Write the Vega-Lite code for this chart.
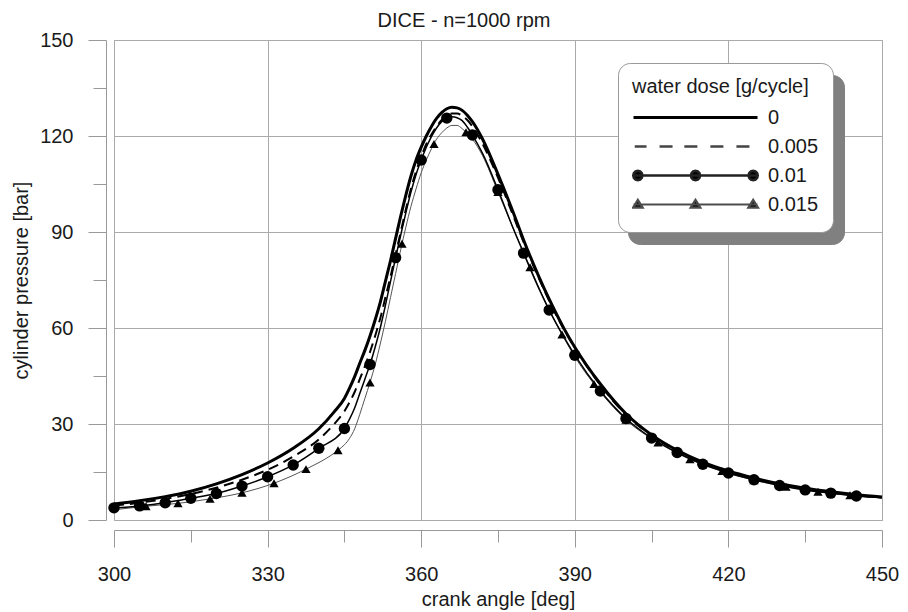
{
  "$schema": "https://vega.github.io/schema/vega-lite/v6.json",
  "width": 768,
  "height": 480,
  "autosize": "none",
  "padding": {"left": 114, "top": 40, "right": 26, "bottom": 92},
  "background": "white",
  "config": {
    "view": {"stroke": "#aaaaaa", "strokeWidth": 1},
    "font": "Liberation Sans"
  },
  "title": {
    "text": "DICE - n=1000 rpm",
    "font": "Liberation Sans",
    "fontSize": 20,
    "fontWeight": "normal",
    "color": "#1a1a1a",
    "anchor": "middle",
    "dx": -34,
    "dy": 29,
    "baseline": "bottom",
    "offset": 8
  },
  "datasets": {
    "curves": [
      {"dose": "0", "angle": 300, "pressure": 5.0},
      {"dose": "0", "angle": 305, "pressure": 6.0},
      {"dose": "0", "angle": 310, "pressure": 7.3},
      {"dose": "0", "angle": 315, "pressure": 9.0},
      {"dose": "0", "angle": 320, "pressure": 11.3},
      {"dose": "0", "angle": 325, "pressure": 14.2},
      {"dose": "0", "angle": 330, "pressure": 17.8},
      {"dose": "0", "angle": 335, "pressure": 22.4},
      {"dose": "0", "angle": 340, "pressure": 28.5},
      {"dose": "0", "angle": 343, "pressure": 33.8},
      {"dose": "0", "angle": 345, "pressure": 38.0},
      {"dose": "0", "angle": 346, "pressure": 41.2},
      {"dose": "0", "angle": 347, "pressure": 44.8},
      {"dose": "0", "angle": 348, "pressure": 49.0},
      {"dose": "0", "angle": 349, "pressure": 53.0},
      {"dose": "0", "angle": 350, "pressure": 57.5},
      {"dose": "0", "angle": 351, "pressure": 62.5},
      {"dose": "0", "angle": 352, "pressure": 68.0},
      {"dose": "0", "angle": 353, "pressure": 74.5},
      {"dose": "0", "angle": 354, "pressure": 81.0},
      {"dose": "0", "angle": 355, "pressure": 88.0},
      {"dose": "0", "angle": 356, "pressure": 95.0},
      {"dose": "0", "angle": 357, "pressure": 101.5},
      {"dose": "0", "angle": 358, "pressure": 107.5},
      {"dose": "0", "angle": 359, "pressure": 112.5},
      {"dose": "0", "angle": 360, "pressure": 116.5},
      {"dose": "0", "angle": 361, "pressure": 120.0},
      {"dose": "0", "angle": 362, "pressure": 123.0},
      {"dose": "0", "angle": 363, "pressure": 125.5},
      {"dose": "0", "angle": 364, "pressure": 127.3},
      {"dose": "0", "angle": 365, "pressure": 128.5},
      {"dose": "0", "angle": 366, "pressure": 129.0},
      {"dose": "0", "angle": 367, "pressure": 128.8},
      {"dose": "0", "angle": 368, "pressure": 128.0},
      {"dose": "0", "angle": 369, "pressure": 126.5},
      {"dose": "0", "angle": 370, "pressure": 124.5},
      {"dose": "0", "angle": 372, "pressure": 119.0},
      {"dose": "0", "angle": 375, "pressure": 108.0},
      {"dose": "0", "angle": 378, "pressure": 96.0},
      {"dose": "0", "angle": 380, "pressure": 87.5},
      {"dose": "0", "angle": 383, "pressure": 76.0},
      {"dose": "0", "angle": 385, "pressure": 69.0},
      {"dose": "0", "angle": 388, "pressure": 59.5},
      {"dose": "0", "angle": 390, "pressure": 54.0},
      {"dose": "0", "angle": 395, "pressure": 42.5},
      {"dose": "0", "angle": 400, "pressure": 33.2},
      {"dose": "0", "angle": 405, "pressure": 26.6},
      {"dose": "0", "angle": 410, "pressure": 21.8},
      {"dose": "0", "angle": 415, "pressure": 18.1},
      {"dose": "0", "angle": 420, "pressure": 15.3},
      {"dose": "0", "angle": 425, "pressure": 13.1},
      {"dose": "0", "angle": 430, "pressure": 11.3},
      {"dose": "0", "angle": 435, "pressure": 9.9},
      {"dose": "0", "angle": 440, "pressure": 8.8},
      {"dose": "0", "angle": 445, "pressure": 7.9},
      {"dose": "0", "angle": 450, "pressure": 7.2},

      {"dose": "0.005", "angle": 300, "pressure": 4.5},
      {"dose": "0.005", "angle": 305, "pressure": 5.4},
      {"dose": "0.005", "angle": 310, "pressure": 6.6},
      {"dose": "0.005", "angle": 315, "pressure": 8.1},
      {"dose": "0.005", "angle": 320, "pressure": 10.1},
      {"dose": "0.005", "angle": 325, "pressure": 12.6},
      {"dose": "0.005", "angle": 330, "pressure": 15.7},
      {"dose": "0.005", "angle": 335, "pressure": 19.8},
      {"dose": "0.005", "angle": 340, "pressure": 25.2},
      {"dose": "0.005", "angle": 343, "pressure": 30.0},
      {"dose": "0.005", "angle": 345, "pressure": 34.0},
      {"dose": "0.005", "angle": 346, "pressure": 36.8},
      {"dose": "0.005", "angle": 347, "pressure": 40.0},
      {"dose": "0.005", "angle": 348, "pressure": 44.0},
      {"dose": "0.005", "angle": 349, "pressure": 48.0},
      {"dose": "0.005", "angle": 350, "pressure": 52.5},
      {"dose": "0.005", "angle": 351, "pressure": 57.5},
      {"dose": "0.005", "angle": 352, "pressure": 63.0},
      {"dose": "0.005", "angle": 353, "pressure": 69.5},
      {"dose": "0.005", "angle": 354, "pressure": 76.0},
      {"dose": "0.005", "angle": 355, "pressure": 83.0},
      {"dose": "0.005", "angle": 356, "pressure": 90.0},
      {"dose": "0.005", "angle": 357, "pressure": 97.0},
      {"dose": "0.005", "angle": 358, "pressure": 103.5},
      {"dose": "0.005", "angle": 359, "pressure": 109.0},
      {"dose": "0.005", "angle": 360, "pressure": 113.5},
      {"dose": "0.005", "angle": 361, "pressure": 117.5},
      {"dose": "0.005", "angle": 362, "pressure": 120.5},
      {"dose": "0.005", "angle": 363, "pressure": 123.0},
      {"dose": "0.005", "angle": 364, "pressure": 125.0},
      {"dose": "0.005", "angle": 365, "pressure": 126.3},
      {"dose": "0.005", "angle": 366, "pressure": 127.0},
      {"dose": "0.005", "angle": 367, "pressure": 127.0},
      {"dose": "0.005", "angle": 368, "pressure": 126.3},
      {"dose": "0.005", "angle": 369, "pressure": 125.0},
      {"dose": "0.005", "angle": 370, "pressure": 123.0},
      {"dose": "0.005", "angle": 372, "pressure": 117.5},
      {"dose": "0.005", "angle": 375, "pressure": 107.0},
      {"dose": "0.005", "angle": 378, "pressure": 95.0},
      {"dose": "0.005", "angle": 380, "pressure": 86.8},
      {"dose": "0.005", "angle": 383, "pressure": 75.5},
      {"dose": "0.005", "angle": 385, "pressure": 68.5},
      {"dose": "0.005", "angle": 388, "pressure": 59.2},
      {"dose": "0.005", "angle": 390, "pressure": 53.8},
      {"dose": "0.005", "angle": 395, "pressure": 42.2},
      {"dose": "0.005", "angle": 400, "pressure": 32.9},
      {"dose": "0.005", "angle": 405, "pressure": 26.4},
      {"dose": "0.005", "angle": 410, "pressure": 21.6},
      {"dose": "0.005", "angle": 415, "pressure": 17.9},
      {"dose": "0.005", "angle": 420, "pressure": 15.1},
      {"dose": "0.005", "angle": 425, "pressure": 12.9},
      {"dose": "0.005", "angle": 430, "pressure": 11.1},
      {"dose": "0.005", "angle": 435, "pressure": 9.7},
      {"dose": "0.005", "angle": 440, "pressure": 8.6},
      {"dose": "0.005", "angle": 445, "pressure": 7.7},
      {"dose": "0.005", "angle": 450, "pressure": 7.0},

      {"dose": "0.01", "angle": 300, "pressure": 3.8},
      {"dose": "0.01", "angle": 305, "pressure": 4.4},
      {"dose": "0.01", "angle": 310, "pressure": 5.4},
      {"dose": "0.01", "angle": 315, "pressure": 6.8},
      {"dose": "0.01", "angle": 320, "pressure": 8.3},
      {"dose": "0.01", "angle": 325, "pressure": 10.6},
      {"dose": "0.01", "angle": 330, "pressure": 13.5},
      {"dose": "0.01", "angle": 335, "pressure": 17.2},
      {"dose": "0.01", "angle": 340, "pressure": 22.4},
      {"dose": "0.01", "angle": 345, "pressure": 28.6},
      {"dose": "0.01", "angle": 346, "pressure": 31.5},
      {"dose": "0.01", "angle": 347, "pressure": 35.0},
      {"dose": "0.01", "angle": 348, "pressure": 39.5},
      {"dose": "0.01", "angle": 349, "pressure": 44.0},
      {"dose": "0.01", "angle": 350, "pressure": 48.6},
      {"dose": "0.01", "angle": 351, "pressure": 54.0},
      {"dose": "0.01", "angle": 352, "pressure": 60.0},
      {"dose": "0.01", "angle": 353, "pressure": 67.0},
      {"dose": "0.01", "angle": 354, "pressure": 74.5},
      {"dose": "0.01", "angle": 355, "pressure": 82.0},
      {"dose": "0.01", "angle": 356, "pressure": 89.0},
      {"dose": "0.01", "angle": 357, "pressure": 96.0},
      {"dose": "0.01", "angle": 358, "pressure": 102.5},
      {"dose": "0.01", "angle": 359, "pressure": 108.0},
      {"dose": "0.01", "angle": 360, "pressure": 112.5},
      {"dose": "0.01", "angle": 361, "pressure": 116.5},
      {"dose": "0.01", "angle": 362, "pressure": 119.8},
      {"dose": "0.01", "angle": 363, "pressure": 122.5},
      {"dose": "0.01", "angle": 364, "pressure": 124.5},
      {"dose": "0.01", "angle": 365, "pressure": 125.6},
      {"dose": "0.01", "angle": 366, "pressure": 126.0},
      {"dose": "0.01", "angle": 367, "pressure": 125.7},
      {"dose": "0.01", "angle": 368, "pressure": 124.8},
      {"dose": "0.01", "angle": 369, "pressure": 122.8},
      {"dose": "0.01", "angle": 370, "pressure": 120.3},
      {"dose": "0.01", "angle": 372, "pressure": 114.5},
      {"dose": "0.01", "angle": 375, "pressure": 103.2},
      {"dose": "0.01", "angle": 378, "pressure": 91.0},
      {"dose": "0.01", "angle": 380, "pressure": 83.4},
      {"dose": "0.01", "angle": 383, "pressure": 72.3},
      {"dose": "0.01", "angle": 385, "pressure": 65.6},
      {"dose": "0.01", "angle": 388, "pressure": 56.8},
      {"dose": "0.01", "angle": 390, "pressure": 51.5},
      {"dose": "0.01", "angle": 395, "pressure": 40.3},
      {"dose": "0.01", "angle": 400, "pressure": 31.7},
      {"dose": "0.01", "angle": 405, "pressure": 25.6},
      {"dose": "0.01", "angle": 410, "pressure": 21.1},
      {"dose": "0.01", "angle": 415, "pressure": 17.4},
      {"dose": "0.01", "angle": 420, "pressure": 14.7},
      {"dose": "0.01", "angle": 425, "pressure": 12.6},
      {"dose": "0.01", "angle": 430, "pressure": 10.8},
      {"dose": "0.01", "angle": 435, "pressure": 9.4},
      {"dose": "0.01", "angle": 440, "pressure": 8.4},
      {"dose": "0.01", "angle": 445, "pressure": 7.5},
      {"dose": "0.01", "angle": 450, "pressure": 7.0},

      {"dose": "0.015", "angle": 300, "pressure": 3.2},
      {"dose": "0.015", "angle": 306.25, "pressure": 4.3},
      {"dose": "0.015", "angle": 312.5, "pressure": 5.2},
      {"dose": "0.015", "angle": 318.75, "pressure": 6.6},
      {"dose": "0.015", "angle": 325, "pressure": 8.5},
      {"dose": "0.015", "angle": 331.25, "pressure": 11.5},
      {"dose": "0.015", "angle": 337.5, "pressure": 15.9},
      {"dose": "0.015", "angle": 343.75, "pressure": 21.8},
      {"dose": "0.015", "angle": 345, "pressure": 23.5},
      {"dose": "0.015", "angle": 346, "pressure": 25.5},
      {"dose": "0.015", "angle": 347, "pressure": 28.5},
      {"dose": "0.015", "angle": 348, "pressure": 33.0},
      {"dose": "0.015", "angle": 349, "pressure": 38.0},
      {"dose": "0.015", "angle": 350, "pressure": 43.0},
      {"dose": "0.015", "angle": 351, "pressure": 48.5},
      {"dose": "0.015", "angle": 352, "pressure": 55.0},
      {"dose": "0.015", "angle": 353, "pressure": 62.0},
      {"dose": "0.015", "angle": 354, "pressure": 69.5},
      {"dose": "0.015", "angle": 355, "pressure": 77.0},
      {"dose": "0.015", "angle": 356, "pressure": 84.5},
      {"dose": "0.015", "angle": 357, "pressure": 91.5},
      {"dose": "0.015", "angle": 358, "pressure": 98.0},
      {"dose": "0.015", "angle": 359, "pressure": 103.5},
      {"dose": "0.015", "angle": 360, "pressure": 108.5},
      {"dose": "0.015", "angle": 361, "pressure": 112.5},
      {"dose": "0.015", "angle": 362, "pressure": 116.0},
      {"dose": "0.015", "angle": 363, "pressure": 119.0},
      {"dose": "0.015", "angle": 364, "pressure": 121.0},
      {"dose": "0.015", "angle": 365, "pressure": 122.5},
      {"dose": "0.015", "angle": 366, "pressure": 123.3},
      {"dose": "0.015", "angle": 367, "pressure": 123.3},
      {"dose": "0.015", "angle": 368, "pressure": 122.3},
      {"dose": "0.015", "angle": 368.75, "pressure": 121.2},
      {"dose": "0.015", "angle": 370, "pressure": 119.0},
      {"dose": "0.015", "angle": 372, "pressure": 113.8},
      {"dose": "0.015", "angle": 375, "pressure": 102.5},
      {"dose": "0.015", "angle": 378, "pressure": 91.0},
      {"dose": "0.015", "angle": 381.25, "pressure": 79.0},
      {"dose": "0.015", "angle": 384, "pressure": 69.0},
      {"dose": "0.015", "angle": 387.5, "pressure": 58.0},
      {"dose": "0.015", "angle": 390, "pressure": 51.0},
      {"dose": "0.015", "angle": 393.75, "pressure": 42.5},
      {"dose": "0.015", "angle": 400, "pressure": 31.3},
      {"dose": "0.015", "angle": 406.25, "pressure": 24.2},
      {"dose": "0.015", "angle": 412.5, "pressure": 19.0},
      {"dose": "0.015", "angle": 418.75, "pressure": 15.3},
      {"dose": "0.015", "angle": 425, "pressure": 12.4},
      {"dose": "0.015", "angle": 431.25, "pressure": 10.4},
      {"dose": "0.015", "angle": 437.5, "pressure": 8.8},
      {"dose": "0.015", "angle": 443.75, "pressure": 7.7},
      {"dose": "0.015", "angle": 450, "pressure": 6.9}
    ],
    "markers": [
      {"dose": "0.01", "angle": 300, "pressure": 3.8},
      {"dose": "0.01", "angle": 305, "pressure": 4.4},
      {"dose": "0.01", "angle": 310, "pressure": 5.4},
      {"dose": "0.01", "angle": 315, "pressure": 6.8},
      {"dose": "0.01", "angle": 320, "pressure": 8.3},
      {"dose": "0.01", "angle": 325, "pressure": 10.6},
      {"dose": "0.01", "angle": 330, "pressure": 13.5},
      {"dose": "0.01", "angle": 335, "pressure": 17.2},
      {"dose": "0.01", "angle": 340, "pressure": 22.4},
      {"dose": "0.01", "angle": 345, "pressure": 28.6},
      {"dose": "0.01", "angle": 350, "pressure": 48.6},
      {"dose": "0.01", "angle": 355, "pressure": 82.0},
      {"dose": "0.01", "angle": 360, "pressure": 112.5},
      {"dose": "0.01", "angle": 365, "pressure": 125.6},
      {"dose": "0.01", "angle": 370, "pressure": 120.3},
      {"dose": "0.01", "angle": 375, "pressure": 103.2},
      {"dose": "0.01", "angle": 380, "pressure": 83.4},
      {"dose": "0.01", "angle": 385, "pressure": 65.6},
      {"dose": "0.01", "angle": 390, "pressure": 51.5},
      {"dose": "0.01", "angle": 395, "pressure": 40.3},
      {"dose": "0.01", "angle": 400, "pressure": 31.7},
      {"dose": "0.01", "angle": 405, "pressure": 25.6},
      {"dose": "0.01", "angle": 410, "pressure": 21.1},
      {"dose": "0.01", "angle": 415, "pressure": 17.4},
      {"dose": "0.01", "angle": 420, "pressure": 14.7},
      {"dose": "0.01", "angle": 425, "pressure": 12.6},
      {"dose": "0.01", "angle": 430, "pressure": 10.8},
      {"dose": "0.01", "angle": 435, "pressure": 9.4},
      {"dose": "0.01", "angle": 440, "pressure": 8.4},
      {"dose": "0.01", "angle": 445, "pressure": 7.5},
      {"dose": "0.015", "angle": 306.25, "pressure": 4.3},
      {"dose": "0.015", "angle": 312.5, "pressure": 5.2},
      {"dose": "0.015", "angle": 318.75, "pressure": 6.6},
      {"dose": "0.015", "angle": 325, "pressure": 8.5},
      {"dose": "0.015", "angle": 331.25, "pressure": 11.5},
      {"dose": "0.015", "angle": 337.5, "pressure": 15.9},
      {"dose": "0.015", "angle": 343.75, "pressure": 21.8},
      {"dose": "0.015", "angle": 350, "pressure": 43.0},
      {"dose": "0.015", "angle": 356.25, "pressure": 86.3},
      {"dose": "0.015", "angle": 362.5, "pressure": 117.5},
      {"dose": "0.015", "angle": 368.75, "pressure": 121.2},
      {"dose": "0.015", "angle": 375, "pressure": 102.5},
      {"dose": "0.015", "angle": 381.25, "pressure": 79.0},
      {"dose": "0.015", "angle": 387.5, "pressure": 58.0},
      {"dose": "0.015", "angle": 393.75, "pressure": 42.5},
      {"dose": "0.015", "angle": 400, "pressure": 31.3},
      {"dose": "0.015", "angle": 406.25, "pressure": 24.2},
      {"dose": "0.015", "angle": 412.5, "pressure": 19.0},
      {"dose": "0.015", "angle": 418.75, "pressure": 15.3},
      {"dose": "0.015", "angle": 425, "pressure": 12.4},
      {"dose": "0.015", "angle": 431.25, "pressure": 10.4},
      {"dose": "0.015", "angle": 437.5, "pressure": 8.8},
      {"dose": "0.015", "angle": 443.75, "pressure": 7.7}
    ],
    "doses": [
      {"dose": "0"}, {"dose": "0.005"}, {"dose": "0.01"}, {"dose": "0.015"}
    ]
  },
  "encoding": {
    "x": {
      "field": "angle",
      "type": "quantitative",
      "scale": {"domain": [300, 450], "nice": false, "zero": false},
      "axis": {
        "title": "crank angle [deg]",
        "values": [300, 315, 330, 345, 360, 375, 390, 405, 420, 435, 450],
        "labelExpr": "datum.value % 30 === 0 ? datum.label : ''",
        "offset": 10,
        "grid": true,
        "gridColor": "#aaaaaa",
        "gridOpacity": {"condition": {"test": "datum.value % 30 === 0", "value": 1}, "value": 0},
        "tickSize": {"condition": {"test": "datum.value % 30 === 0", "value": 17}, "value": 12},
        "tickColor": "#999999",
        "domainColor": "#999999",
        "labelFont": "Liberation Sans",
        "labelFontSize": 20,
        "labelColor": "#1a1a1a",
        "labelPadding": 17,
        "labelFlush": false,
        "titleFont": "Liberation Sans",
        "titleFontSize": 20,
        "titleFontWeight": "normal",
        "titleColor": "#1a1a1a",
        "titlePadding": 5
      }
    },
    "y": {
      "field": "pressure",
      "type": "quantitative",
      "scale": {"domain": [0, 150], "nice": false},
      "axis": {
        "title": "cylinder pressure [bar]",
        "values": [0, 15, 30, 45, 60, 75, 90, 105, 120, 135, 150],
        "labelExpr": "datum.value % 30 === 0 ? datum.label : ''",
        "offset": 8,
        "grid": true,
        "gridColor": "#aaaaaa",
        "gridOpacity": {"condition": {"test": "datum.value % 30 === 0", "value": 1}, "value": 0},
        "tickSize": {"condition": {"test": "datum.value % 30 === 0", "value": 18}, "value": 13},
        "tickColor": "#999999",
        "domainColor": "#999999",
        "labelFont": "Liberation Sans",
        "labelFontSize": 20,
        "labelColor": "#1a1a1a",
        "labelPadding": 15,
        "labelFlush": false,
        "titleFont": "Liberation Sans",
        "titleFontSize": 20,
        "titleFontWeight": "normal",
        "titleColor": "#1a1a1a",
        "titlePadding": 8
      }
    }
  },
  "layer": [
    {
      "data": {"name": "doses"},
      "mark": {"type": "point", "filled": true, "fill": "#808080", "opacity": 0},
      "encoding": {
        "shape": {
          "field": "dose", "type": "ordinal",
          "scale": {
            "domain": ["0", "0.005", "0.01", "0.015"],
            "range": ["M-1,0H1", "M-1,0H1", "M-1,0H1", "M-1,0H1"]
          },
          "legend": {
            "title": " ",
            "labelExpr": "' '",
            "orient": "none", "legendX": 514, "legendY": 35,
            "fillColor": "#808080", "strokeColor": "#808080", "cornerRadius": 12, "padding": 14,
            "titleFont": "Liberation Sans", "titleFontSize": 20, "titleFontWeight": "normal", "titleColor": "#808080", "titlePadding": 7,
            "labelFont": "Liberation Sans", "labelFontSize": 20, "labelColor": "#808080", "labelOffset": 61,
            "symbolSize": 15376, "symbolOffset": 0, "symbolOpacity": 1,
            "clipHeight": 27, "rowPadding": 2, "zindex": 1
          }
        },
        "stroke": {
          "field": "dose", "type": "ordinal",
          "scale": {"domain": ["0", "0.005", "0.01", "0.015"], "range": ["#808080", "#808080", "#808080", "#808080"]},
          "legend": {"title": " "}
        },
        "strokeWidth": {
          "field": "dose", "type": "ordinal",
          "scale": {"domain": ["0", "0.005", "0.01", "0.015"], "range": [3, 2.2, 2, 1]},
          "legend": {"title": " "}
        }
      }
    },
    {
      "data": {"name": "doses"},
      "mark": {"type": "point", "filled": true, "fill": "black", "opacity": 0},
      "encoding": {
        "shape": {
          "field": "dose", "type": "ordinal",
          "scale": {
            "domain": ["0", "0.005", "0.01", "0.015"],
            "range": [
              "M-1,0H1",
              "M-0.98,0H-0.79M-0.58,0H-0.37M-0.18,0H0.03M0.24,0H0.45M0.66,0H0.87",
              "M-1,0H1M-0.855,0L-0.865,0.0375L-0.8925,0.065L-0.93,0.075L-0.9675,0.065L-0.995,0.0375L-1.005,0L-0.995,-0.0375L-0.9675,-0.065L-0.93,-0.075L-0.8925,-0.065L-0.865,-0.0375ZM0.075,0L0.065,0.0375L0.0375,0.065L0,0.075L-0.0375,0.065L-0.065,0.0375L-0.075,0L-0.065,-0.0375L-0.0375,-0.065L0,-0.075L0.0375,-0.065L0.065,-0.0375ZM1.005,0L0.995,0.0375L0.9675,0.065L0.93,0.075L0.8925,0.065L0.865,0.0375L0.855,0L0.865,-0.0375L0.8925,-0.065L0.93,-0.075L0.9675,-0.065L0.995,-0.0375Z",
              "M-1,0H1M-0.93,-0.075L-0.852,0.05L-1.008,0.05ZM0,-0.075L0.078,0.05L-0.078,0.05ZM0.93,-0.075L1.008,0.05L0.852,0.05Z"
            ]
          },
          "legend": {
            "title": "water dose [g/cycle]",
            "orient": "none", "legendX": 504, "legendY": 23,
            "fillColor": "white", "strokeColor": "#999999", "cornerRadius": 12, "padding": 14,
            "titleFont": "Liberation Sans", "titleFontSize": 20, "titleFontWeight": "normal", "titleColor": "#1a1a1a", "titlePadding": 7,
            "labelFont": "Liberation Sans", "labelFontSize": 20, "labelColor": "#1a1a1a", "labelOffset": 9,
            "symbolSize": 15376, "symbolOffset": 0, "symbolOpacity": 1,
            "clipHeight": 27, "rowPadding": 2, "zindex": 2
          }
        },
        "stroke": {
          "field": "dose", "type": "ordinal",
          "scale": {"domain": ["0", "0.005", "0.01", "0.015"], "range": ["black", "#444444", "#222222", "#4d4d4d"]},
          "legend": {"title": "water dose [g/cycle]"}
        },
        "strokeWidth": {
          "field": "dose", "type": "ordinal",
          "scale": {"domain": ["0", "0.005", "0.01", "0.015"], "range": [3, 2.2, 2, 1]},
          "legend": {"title": "water dose [g/cycle]"}
        }
      }
    },
    {
      "data": {"name": "curves"},
      "transform": [{"filter": "datum.dose === '0.015'"}],
      "mark": {"type": "line", "interpolate": "monotone", "color": "#555555", "strokeWidth": 1}
    },
    {
      "data": {"name": "curves"},
      "transform": [{"filter": "datum.dose === '0.01'"}],
      "mark": {"type": "line", "interpolate": "monotone", "color": "black", "strokeWidth": 1.5}
    },
    {
      "data": {"name": "curves"},
      "transform": [{"filter": "datum.dose === '0.005'"}],
      "mark": {"type": "line", "interpolate": "monotone", "color": "black", "strokeWidth": 2, "strokeDash": [10, 6]}
    },
    {
      "data": {"name": "curves"},
      "transform": [{"filter": "datum.dose === '0'"}],
      "mark": {"type": "line", "interpolate": "monotone", "color": "black", "strokeWidth": 3}
    },
    {
      "data": {"name": "markers"},
      "transform": [{"filter": "datum.dose === '0.015'"}],
      "mark": {"type": "point", "shape": "triangle-up", "filled": true, "color": "black", "opacity": 1, "size": 85}
    },
    {
      "data": {"name": "markers"},
      "transform": [{"filter": "datum.dose === '0.01'"}],
      "mark": {"type": "point", "shape": "circle", "filled": true, "color": "black", "opacity": 1, "size": 130}
    }
  ],
  "resolve": {
    "scale": {"shape": "independent", "stroke": "independent", "strokeWidth": "independent"},
    "legend": {"shape": "independent", "stroke": "independent", "strokeWidth": "independent"}
  }
}
